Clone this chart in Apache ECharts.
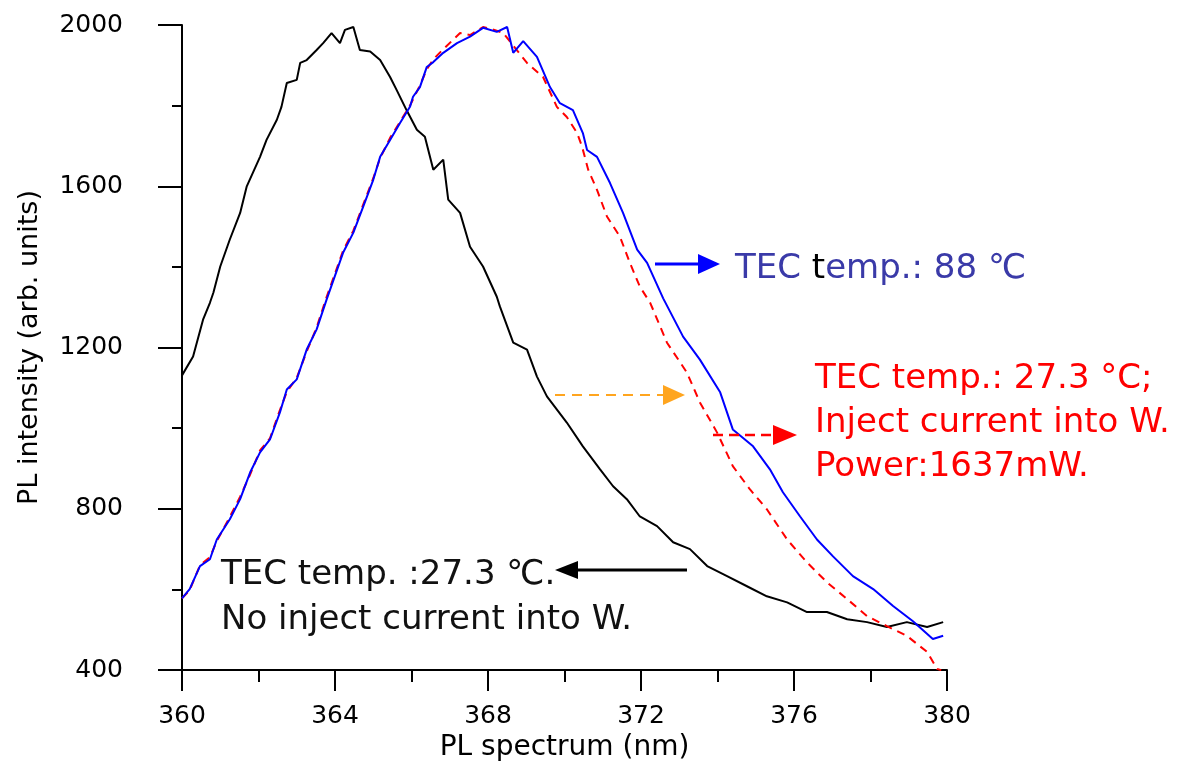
<!DOCTYPE html>
<html>
<head>
<meta charset="utf-8">
<script src="https://cdn.jsdelivr.net/npm/echarts@6/dist/echarts.min.js"></script>
<style>
html,body{margin:0;padding:0;background:#fff;}
#chart{width:1183px;height:767px;}
</style>
</head>
<body>
<div id="chart"></div>
<script>
// ---- Data ----
const xTicks = [360, 364, 368, 372, 376, 380];
const yTicks = [400, 800, 1200, 1600, 2000];

// Black: TEC 27.3 C, no injected current
const blackX = [360.00,360.29,360.55,360.73,360.82,361.00,361.25,361.52,361.69,362.04,362.21,362.48,362.60,362.74,363.00,363.09,363.26,363.52,363.69,363.91,364.13,364.26,364.48,364.65,364.92,365.18,365.44,365.61,365.87,366.14,366.35,366.57,366.83,366.96,367.27,367.53,367.87,368.23,368.31,368.66,369.02,369.28,369.54,370.06,370.48,370.93,371.27,371.63,371.97,372.42,372.84,373.28,373.73,374.25,374.77,375.29,375.82,376.34,376.86,377.39,377.91,378.43,378.95,379.48,379.90];
const blackY = [1131,1178,1269,1311,1336,1401,1468,1534,1599,1673,1715,1765,1797,1856,1864,1906,1913,1938,1955,1980,1955,1988,1995,1938,1934,1913,1871,1839,1789,1740,1723,1641,1666,1567,1534,1450,1401,1326,1302,1212,1195,1128,1079,1014,955,898,856,824,781,757,717,700,658,633,608,583,568,544,544,526,519,507,519,507,519];

// Blue: TEC 88 C
const blueX = [360.00,360.20,360.47,360.73,360.91,361.25,361.52,361.78,362.04,362.30,362.56,362.74,363.00,363.26,363.52,363.78,364.21,364.48,364.74,365.00,365.18,365.44,365.70,365.96,366.04,366.22,366.40,366.57,366.83,367.19,367.53,367.87,368.23,368.50,368.66,368.92,369.28,369.62,369.88,370.22,370.48,370.59,370.85,371.19,371.53,371.90,372.16,372.58,373.10,373.54,374.07,374.40,374.93,375.37,375.71,376.16,376.60,377.02,377.54,378.07,378.59,379.11,379.63,379.90];
const blueY = [578,601,658,675,724,774,824,890,940,972,1039,1096,1121,1195,1245,1319,1435,1485,1550,1616,1673,1715,1757,1797,1822,1846,1896,1908,1931,1955,1971,1993,1983,1995,1931,1960,1921,1846,1806,1789,1732,1690,1673,1608,1534,1443,1410,1322,1227,1170,1089,997,955,898,841,781,724,682,633,601,559,521,477,485];

// Red dashed: TEC 27.3 C, injected current 1637 mW
const redX = [360.00,360.20,360.47,360.73,360.91,361.25,361.52,361.78,362.04,362.30,362.56,362.74,363.00,363.26,363.52,363.78,364.21,364.48,364.74,365.00,365.18,365.44,365.70,365.96,366.22,366.40,366.57,366.83,367.27,367.53,367.87,368.10,368.40,369.02,369.44,369.80,370.06,370.33,370.46,370.62,370.85,371.11,371.45,371.71,371.97,372.24,372.68,373.20,373.54,373.99,374.40,374.85,375.29,375.82,376.34,376.86,377.39,377.91,378.43,378.95,379.48,379.74,379.85];
const redY = [578,598,660,680,720,780,830,885,945,975,1045,1090,1125,1190,1250,1325,1440,1490,1555,1620,1670,1720,1760,1800,1850,1890,1915,1940,1980,1975,1995,1990,1980,1906,1871,1797,1772,1732,1698,1641,1591,1525,1475,1410,1351,1311,1212,1138,1064,989,906,848,799,724,667,618,576,534,509,485,445,403,400];

const zip = (xs, ys) => xs.map((x, i) => [x, ys[i]]);

const FONT = 'DejaVu Sans';
const chart = echarts.init(document.getElementById('chart'), null, {renderer: 'canvas'});

const axisCommon = {
  axisLine: {show: true, lineStyle: {color: '#000', width: 2}},
  splitLine: {show: false},
  minorSplitLine: {show: false},
};

const option = {
  animation: false,
  backgroundColor: '#fff',
  grid: {left: 182, right: 236, top: 25, bottom: 96, containLabel: false},
  xAxis: Object.assign({
    type: 'value',
    min: xTicks[0], max: xTicks[xTicks.length - 1], interval: 4,
    name: 'PL spectrum (nm)', nameLocation: 'middle', nameGap: 63,
    nameTextStyle: {fontFamily: FONT, fontSize: 28, color: '#000'},
    axisTick: {show: true, inside: false, length: 21, lineStyle: {color: '#000', width: 2}},
    minorTick: {show: true, splitNumber: 2, length: 12, lineStyle: {color: '#000', width: 2}},
    axisLabel: {margin: 34, fontFamily: FONT, fontSize: 25, color: '#000', formatter: v => String(v)}
  }, axisCommon),
  yAxis: Object.assign({
    type: 'value',
    min: yTicks[0], max: yTicks[yTicks.length - 1], interval: 400,
    name: 'PL intensity (arb. units)', nameLocation: 'middle', nameGap: 139, nameRotate: 90,
    nameTextStyle: {fontFamily: FONT, fontSize: 27, color: '#000'},
    axisTick: {show: true, inside: false, length: 24, lineStyle: {color: '#000', width: 2}},
    minorTick: {show: true, splitNumber: 2, length: 10, lineStyle: {color: '#000', width: 2}},
    axisLabel: {margin: 59, fontFamily: FONT, fontSize: 25, color: '#000', formatter: v => String(v)}
  }, axisCommon),
  series: [
    {name: 'black', type: 'line', data: zip(blackX, blackY), showSymbol: false, symbol: 'none',
     lineStyle: {color: '#000', width: 2}, z: 2},
    {name: 'red', type: 'line', data: zip(redX, redY), showSymbol: false, symbol: 'none',
     lineStyle: {color: '#ff0000', width: 2, type: [8, 6]}, z: 3},
    {name: 'blue', type: 'line', data: zip(blueX, blueY), showSymbol: false, symbol: 'none',
     lineStyle: {color: '#0000ff', width: 2}, z: 4}
  ],
  graphic: [
    // blue arrow + label
    {type: 'line', shape: {x1: 655, y1: 264, x2: 700, y2: 264}, style: {stroke: '#0000ff', lineWidth: 3}, z: 10},
    {type: 'polygon', shape: {points: [[698, 254], [720, 264], [698, 274]]}, style: {fill: '#0000ff'}, z: 10},
    {type: 'text', left: 735, top: 252, z: 10, style: {
      text: '{b|TEC }{k|t}{b|emp.: 88 ℃}',
      rich: {
        b: {fontFamily: FONT, fontSize: 34, fill: '#3a3aa8', color: '#3a3aa8'},
        k: {fontFamily: FONT, fontSize: 34, fill: '#000', color: '#000'}
      }
    }},
    // orange dashed arrow
    {type: 'line', shape: {x1: 555, y1: 395, x2: 665, y2: 395}, style: {stroke: '#ffa51f', lineWidth: 2, lineDash: [10, 7]}, z: 10},
    {type: 'polygon', shape: {points: [[663, 385], [685, 395], [663, 405]]}, style: {fill: '#ffa51f'}, z: 10},
    // red dashed arrow
    {type: 'line', shape: {x1: 713, y1: 435, x2: 775, y2: 435}, style: {stroke: '#ff0000', lineWidth: 2.5, lineDash: [10, 6]}, z: 10},
    {type: 'polygon', shape: {points: [[773, 425], [797, 435], [773, 445]]}, style: {fill: '#ff0000'}, z: 10},
    // red label
    {type: 'text', left: 815, top: 362, z: 10, style: {text: 'TEC temp.: 27.3 °C;', font: '34px "DejaVu Sans"', fill: '#ff0000'}},
    {type: 'text', left: 815, top: 406, z: 10, style: {text: 'Inject current into W.', font: '34px "DejaVu Sans"', fill: '#ff0000'}},
    {type: 'text', left: 815, top: 450, z: 10, style: {text: 'Power:1637mW.', font: '34px "DejaVu Sans"', fill: '#ff0000'}},
    // black arrow + label
    {type: 'line', shape: {x1: 576, y1: 570, x2: 687, y2: 570}, style: {stroke: '#000', lineWidth: 3}, z: 10},
    {type: 'polygon', shape: {points: [[578, 561], [555, 570], [578, 579]]}, style: {fill: '#000'}, z: 10},
    {type: 'text', left: 221, top: 558, z: 10, style: {text: 'TEC temp. :27.3 ℃.', font: '34px "DejaVu Sans"', fill: '#111'}},
    {type: 'text', left: 221, top: 603, z: 10, style: {text: 'No inject current into W.', font: '34px "DejaVu Sans"', fill: '#111'}}
  ]
};
chart.setOption(option);
</script>
</body>
</html>
